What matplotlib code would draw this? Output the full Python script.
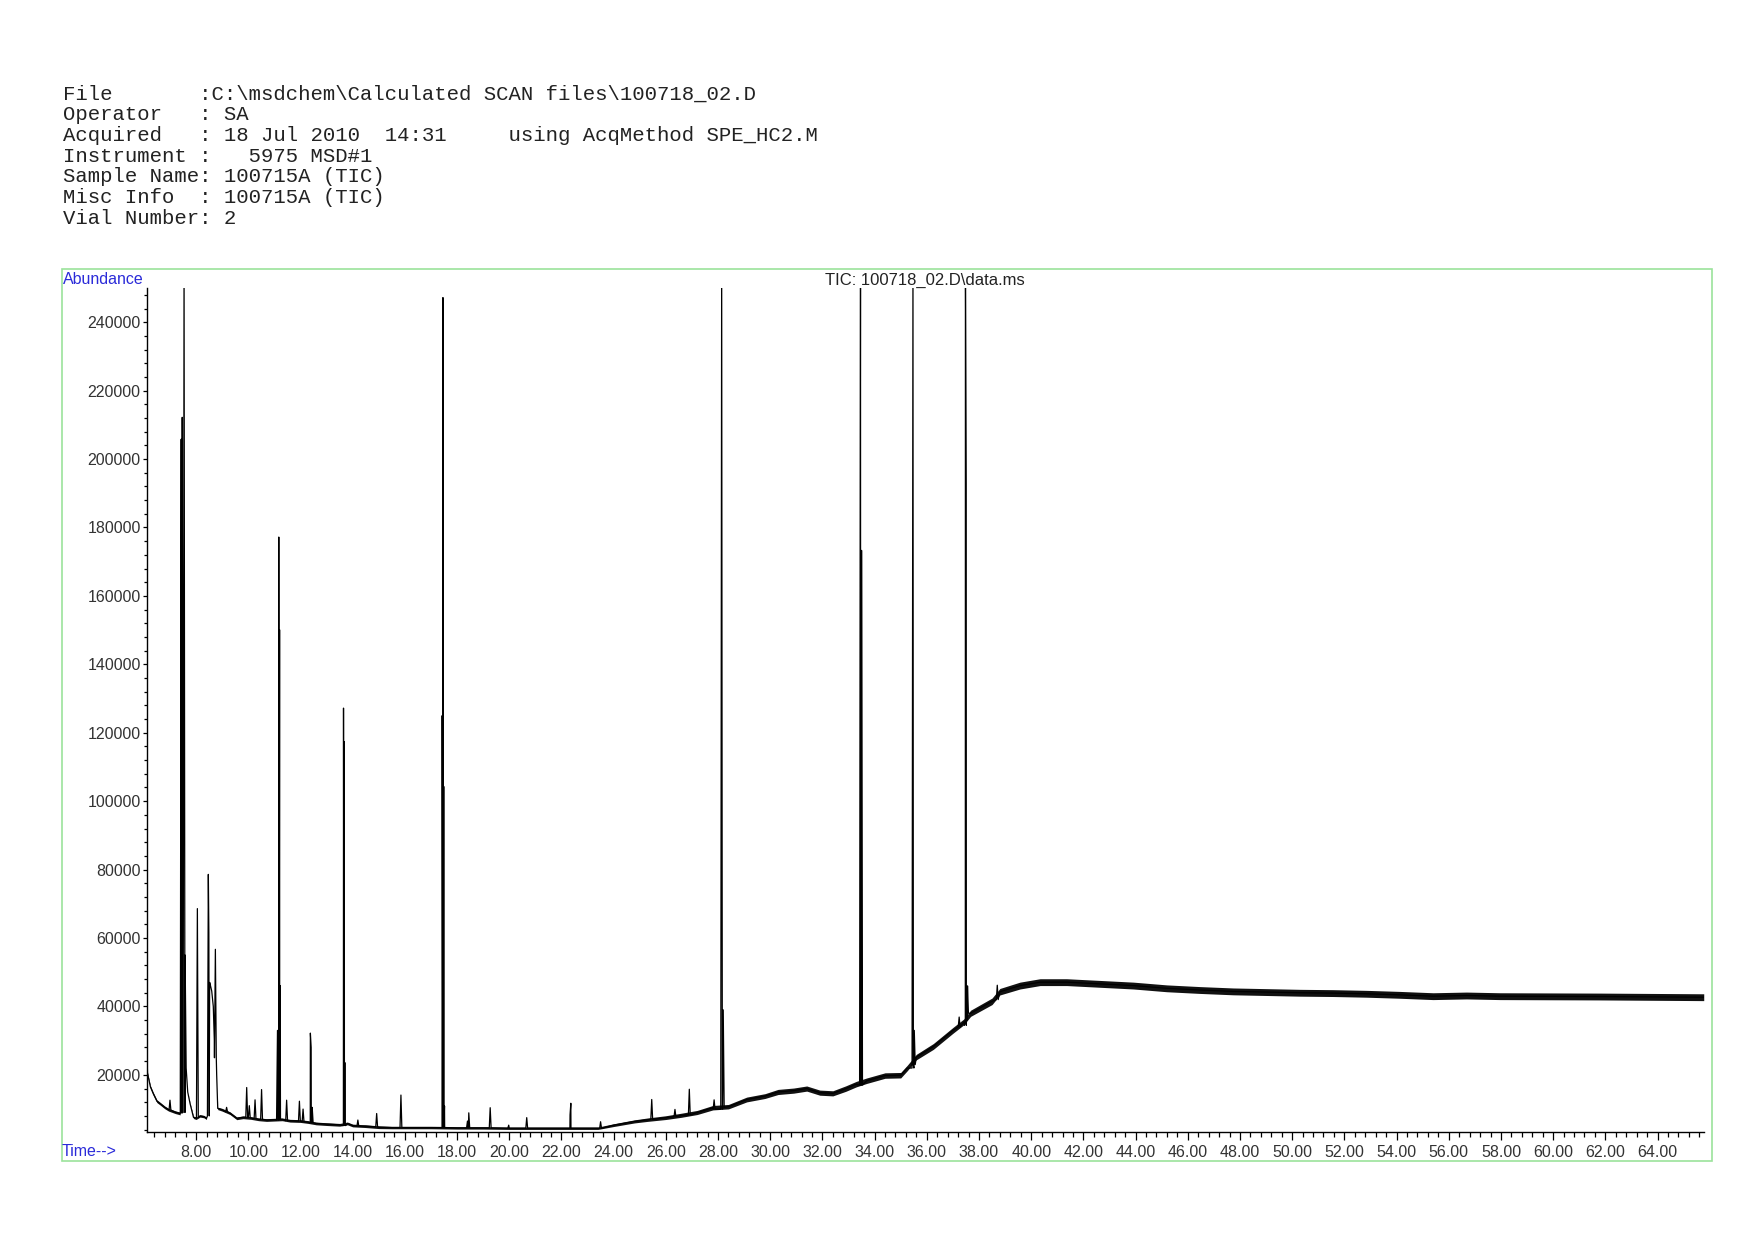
import matplotlib
matplotlib.use("Agg")
import matplotlib.pyplot as plt
import numpy as np
from matplotlib.patches import Rectangle
from matplotlib.ticker import MultipleLocator, FormatStrFormatter

# header block printed above the chromatogram
header_lines = [
    "File       :C:\\msdchem\\Calculated SCAN files\\100718_02.D",
    "Operator   : SA",
    "Acquired   : 18 Jul 2010  14:31     using AcqMethod SPE_HC2.M",
    "Instrument :   5975 MSD#1",
    "Sample Name: 100715A (TIC)",
    "Misc Info  : 100715A (TIC)",
    "Vial Number: 2",
]
trace_title = "TIC: 100718_02.D\\data.ms"

# baseline of the TIC (time in min, abundance, half width of the noise band)
base_time = [6.12, 6.14, 6.25, 6.36, 6.50, 6.62, 6.80, 6.95, 7.20, 7.39,
             7.58, 7.62, 7.68, 7.77, 7.90, 8.00, 8.15, 8.30, 8.40,
             8.52, 8.60, 8.66, 8.70, 8.79, 8.83, 9.00, 9.30, 9.56, 9.80,
             10.10, 10.40, 10.70, 11.00, 11.30, 11.60, 12.00, 12.30, 12.60,
             13.00, 13.50, 13.80, 14.00, 14.50, 15.00, 15.50, 16.00, 17.00,
             18.00, 19.00, 20.00, 21.00, 22.00, 22.60, 23.40, 24.00, 24.80,
             25.30, 26.00, 26.60, 27.20, 27.80, 28.40, 29.10, 29.80, 30.30,
             30.90, 31.40, 31.90, 32.40, 32.90, 33.30, 33.70, 34.40, 35.00,
             35.25, 35.60, 36.25, 37.00, 37.42, 37.68, 38.50, 38.80, 39.57,
             40.34, 41.36, 42.64, 43.92, 45.19, 46.47, 47.74, 49.02, 50.30,
             51.58, 52.85, 54.10, 55.40, 56.68, 57.96, 61.80, 65.77]
base_abund = [25700, 20400, 16500, 14500, 12300, 11600, 10500, 9800, 9100, 8700,
              55000, 22000, 15000, 11600, 7600, 7300, 8000, 7800, 7300,
              47000, 44500, 40000, 30000, 20000, 10200, 9800, 8800, 7300, 7600,
              7400, 7000, 6800, 6900, 7000, 6600, 6500, 6200, 5800,
              5600, 5400, 5800, 5200, 5000, 4700, 4600, 4600, 4600,
              4500, 4500, 4400, 4400, 4400, 4400, 4400, 5300, 6400,
              6900, 7500, 8200, 9000, 10400, 10700, 12800, 13800, 15000,
              15400, 16000, 14800, 14600, 16000, 17300, 18300, 19800, 19900,
              22000, 25200, 28300, 33000, 35500, 38000, 41500, 44300, 46100,
              47100, 47100, 46600, 46100, 45300, 44800, 44400, 44200, 44000,
              43900, 43700, 43400, 43000, 43200, 43000, 42900, 42700]
base_noise = [0, 350, 400, 400, 400, 400, 400, 400, 400, 400,
              0, 0, 0, 200, 350, 350, 350, 350, 350,
              0, 0, 0, 0, 0, 350, 400, 400, 400, 400,
              400, 400, 400, 400, 400, 400, 400, 400, 400,
              400, 400, 400, 400, 400, 400, 350, 350, 350,
              350, 350, 350, 350, 350, 350, 350, 400, 450,
              500, 550, 600, 600, 650, 650, 700, 700, 750,
              750, 750, 750, 750, 800, 800, 800, 800, 800,
              800, 800, 850, 850, 850, 900, 950, 950, 1000,
              1000, 1000, 1000, 1000, 1000, 1000, 1000, 1000, 1000,
              1000, 1000, 1000, 1000, 1000, 1000, 1000, 1000]

# peaks: retention time, apex abundance, abundance at the peak foot
peak_time = [7.00, 7.43, 7.47, 7.54, 8.05, 8.47, 8.49, 8.74, 9.17, 9.94,
             10.04, 10.26, 10.51, 11.12, 11.17, 11.20, 11.22, 11.47, 11.96,
             12.10, 12.38, 12.41, 12.45, 13.65, 13.68, 13.70, 14.20, 14.92,
             15.85, 17.43, 17.46, 17.49, 17.52, 18.40, 18.45, 19.27, 19.98,
             20.67, 22.33, 22.36, 23.50, 25.46, 26.35, 26.90, 27.85, 28.14,
             28.20, 33.44, 33.46, 33.50, 35.47, 35.52, 37.24, 37.48, 37.51,
             37.56, 38.70]
peak_top = [12600, 205800, 212200, 260000, 68600, 78600, 61600, 56700, 10500, 16300,
            11000, 12700, 15700, 33000, 177200, 150100, 46100, 12600, 12300,
            10000, 32200, 28000, 10500, 127200, 117400, 23600, 6800, 8700,
            14100, 125000, 247200, 104300, 10900, 6500, 8900, 10400, 5300,
            7500, 8300, 11700, 6300, 12800, 9900, 15800, 12700, 260000,
            39000, 135000, 260000, 173300, 260000, 33000, 36900, 260000, 192900,
            46000, 46200]
peak_foot = [9700, 8800, 9000, 9000, 7500, 8000, 47000, 25000, 9200, 7600,
             7500, 7200, 7000, 6800, 7000, 7000, 7000, 6600, 6500,
             6300, 6000, 6000, 6000, 5200, 5200, 5200, 5000, 4800,
             4600, 4600, 4600, 4600, 4600, 4500, 4500, 4500, 4400,
             4400, 4400, 4400, 4400, 7000, 7800, 8300, 10000, 10000,
             10500, 17000, 17000, 17000, 22000, 23000, 34000, 34500, 36000,
             38000, 42000]

W = 0.035  # half width of the drawn peaks, in minutes

pt = np.asarray(peak_time, dtype=float)
px = np.column_stack([pt - W, pt, pt + W]).ravel()
py = np.column_stack([peak_foot, peak_top, peak_foot]).ravel()
t_all = np.concatenate([np.asarray(base_time, dtype=float), px])
a_all = np.concatenate([np.asarray(base_abund, dtype=float), py])
order = np.argsort(t_all, kind="stable")

fig = plt.figure(figsize=(17.54, 12.4), dpi=100)
ax = fig.add_axes([147 / 1754, 1 - 1132 / 1240, (1704 - 147) / 1754, (1132 - 288) / 1240])

b = np.asarray(base_abund, dtype=float)
n = np.asarray(base_noise, dtype=float)
ax.fill_between(base_time, b - n, b + n, color="#111111", lw=0)
ax.plot(t_all[order], a_all[order], color="black", lw=0.9)

ax.set_xlim(6.12, 65.78)
ax.set_ylim(3300, 250000)

for s in ["top", "right"]:
    ax.spines[s].set_visible(False)
for s in ["left", "bottom"]:
    ax.spines[s].set_linewidth(1.0)

ax.xaxis.set_major_locator(MultipleLocator(2))
ax.xaxis.set_minor_locator(MultipleLocator(0.4))
ax.xaxis.set_major_formatter(FormatStrFormatter("%.2f"))
ax.yaxis.set_major_locator(MultipleLocator(20000))
ax.yaxis.set_minor_locator(MultipleLocator(4000))
ax.yaxis.set_major_formatter(FormatStrFormatter("%d"))

tick_font = dict(family="Liberation Sans", size=11.5)
ax.tick_params(axis="x", which="major", length=6, width=0.9, pad=3.5, labelcolor="#333333")
ax.tick_params(axis="x", which="minor", length=3.6, width=0.9)
ax.tick_params(axis="y", which="major", length=3, width=0.9, pad=1.5, labelcolor="#333333")
ax.tick_params(axis="y", which="minor", length=2, width=0.9)
for lab in ax.get_xticklabels() + ax.get_yticklabels():
    lab.set_fontfamily("Liberation Sans")
    lab.set_fontsize(11.5)

# header text
for i, line in enumerate(header_lines):
    fig.text(62.6 / 1754, 1 - (93.8 + i * 20.8) / 1240, line,
             family="Liberation Mono", size=14.9, color="#222222", va="center", ha="left")

blue = "#2b2bd9"
fig.text(63 / 1754, 1 - 280 / 1240, "Abundance", color=blue, va="center", ha="left", **tick_font)
fig.text(62 / 1754, 1 - 1152 / 1240, "Time-->", color=blue, va="center", ha="left", **tick_font)
fig.text(925 / 1754, 1 - 280 / 1240, trace_title, color="#222222", va="center", ha="center",
         family="Liberation Sans", size=12)

# light green frame around the plot
fig.add_artist(Rectangle((61.5 / 1754, 1 - 1161 / 1240), (1712 - 61.5) / 1754, (1161 - 268.5) / 1240,
                         transform=fig.transFigure, fill=False, edgecolor="#9be39b", lw=1.2))

fig.savefig("out.png", dpi=100)
plt.close()
